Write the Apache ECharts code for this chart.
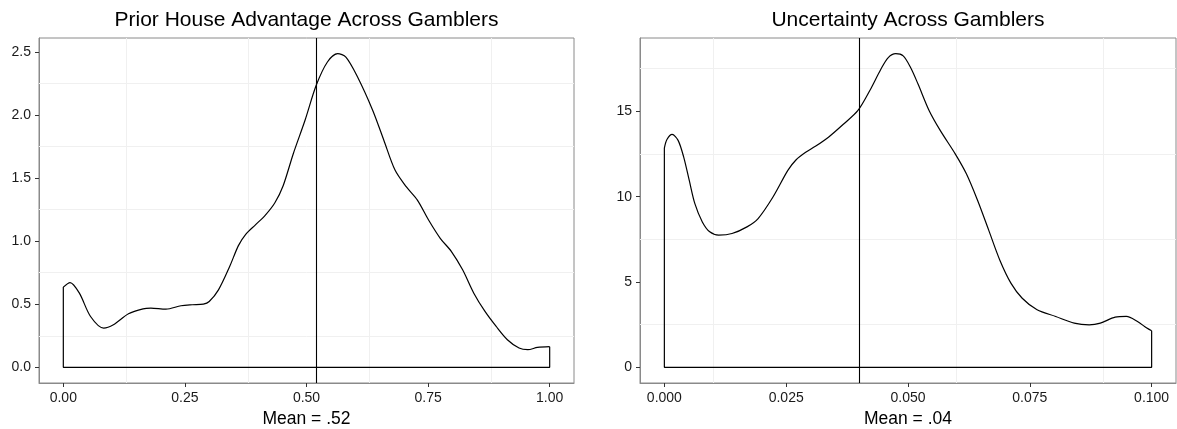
<!DOCTYPE html>
<html>
<head>
<meta charset="utf-8">
<script src="https://cdn.jsdelivr.net/npm/echarts@6/dist/echarts.min.js"></script>
<style>
  html, body { margin: 0; padding: 0; background: #fff; }
  #chart { width: 1177px; height: 429px; }
</style>
</head>
<body>
<div id="chart"></div>
<script>
// Kernel density of the prior house advantage across gamblers
const houseX = [0, 0.0139, 0.033, 0.056, 0.083, 0.103, 0.134, 0.164, 0.180, 0.211, 0.242, 0.265, 0.288, 0.300,
  0.319, 0.342, 0.360, 0.375, 0.395, 0.415, 0.435, 0.452, 0.473, 0.497, 0.520, 0.543, 0.564, 0.581, 0.605, 0.636,
  0.659, 0.682, 0.705, 0.728, 0.751, 0.775, 0.798, 0.821, 0.844, 0.867, 0.890, 0.913, 0.937, 0.955, 0.975, 1.0];
const houseDensity = [0.636, 0.672, 0.588, 0.403, 0.311, 0.338, 0.425, 0.464, 0.469, 0.461, 0.488, 0.496, 0.501, 0.522,
  0.614, 0.799, 0.965, 1.055, 1.130, 1.205, 1.305, 1.440, 1.696, 1.959, 2.236, 2.421, 2.487, 2.460, 2.302, 2.039,
  1.801, 1.564, 1.432, 1.326, 1.168, 1.023, 0.918, 0.773, 0.588, 0.443, 0.324, 0.219, 0.153, 0.140, 0.158, 0.164];
const houseMean = 0.5235;

// Kernel density of the uncertainty across gamblers
const uncertX = [0, 0.00053, 0.00160, 0.00282, 0.00397, 0.00511, 0.00626, 0.00779, 0.00931, 0.01115, 0.01389,
  0.01695, 0.01924, 0.02229, 0.02534, 0.02700, 0.02900, 0.03100, 0.03374, 0.03679, 0.03969, 0.04214, 0.04443, 0.04595,
  0.04748, 0.04901, 0.05053, 0.05206, 0.05435, 0.05664, 0.05969, 0.06198, 0.06427, 0.06656, 0.06885, 0.07115,
  0.07344, 0.07649, 0.08031, 0.08412, 0.08718, 0.08947, 0.09252, 0.09481, 0.09710, 0.09901, 0.1];
const uncertDensity = [12.85, 13.35, 13.65, 13.30, 12.32, 10.95, 9.59, 8.52, 7.94, 7.75, 7.84,
  8.23, 8.72, 9.98, 11.54, 12.15, 12.60, 12.95, 13.50, 14.26, 15.04, 16.21, 17.47, 18.15,
  18.38, 18.25, 17.57, 16.60, 15.04, 13.87, 12.51, 11.34, 9.79, 8.04, 6.28, 4.92,
  4.05, 3.37, 2.98, 2.59, 2.49, 2.59, 2.94, 2.98, 2.68, 2.30, 2.14];
const uncertMean = 0.0397;

// Axis breaks
const houseTicksX = [0, 0.25, 0.5, 0.75, 1];
const houseTicksY = [0, 0.5, 1, 1.5, 2, 2.5];
const houseMinorX = [0.125, 0.375, 0.625, 0.875];
const houseMinorY = [0.25, 0.75, 1.25, 1.75, 2.25];
const uncertTicksX = [0, 0.025, 0.05, 0.075, 0.1];
const uncertTicksY = [0, 5, 10, 15];
const uncertMinorX = [0.0125, 0.0375, 0.0625, 0.0875];
const uncertMinorY = [2.5, 7.5, 12.5, 17.5];

const FONT = 'Liberation Sans, Arial, Helvetica, sans-serif';
const BORDER = '#8a8a8a';

function pairs(xs, ys) { return xs.map((x, i) => [x, ys[i]]); }

// closed outline of the density: right edge, baseline, left edge
function outline(xs, ys) {
  const n = xs.length - 1;
  return [[xs[n], ys[n]], [xs[n], 0], [xs[0], 0], [xs[0], ys[0]]];
}

function xAxisCfg(idx, min, max, ticks, digits, name) {
  return {
    type: 'value', gridIndex: idx, min: min, max: max, position: 'bottom',
    axisLine: { show: true, onZero: false, lineStyle: { color: BORDER, width: 1 } },
    axisTick: { show: true, customValues: ticks, length: 4, lineStyle: { color: '#333', width: 1 } },
    axisLabel: { customValues: ticks, formatter: v => v.toFixed(digits), margin: 8,
      color: '#1a1a1a', fontSize: 14, fontFamily: FONT },
    splitLine: { show: false },
    name: name, nameLocation: 'middle', nameGap: 26,
    nameTextStyle: { color: '#000', fontSize: 17.5, fontFamily: FONT }
  };
}

function yAxisCfg(idx, min, max, ticks, digits) {
  return {
    type: 'value', gridIndex: idx, min: min, max: max, position: 'left',
    axisLine: { show: true, onZero: false, lineStyle: { color: BORDER, width: 1 } },
    axisTick: { show: true, customValues: ticks, length: 4, lineStyle: { color: '#333', width: 1 } },
    axisLabel: { customValues: ticks, formatter: v => v.toFixed(digits), margin: 8,
      color: '#1a1a1a', fontSize: 14, fontFamily: FONT },
    splitLine: { show: false }
  };
}

function gridLines(idx, minorX, minorY) {
  return {
    type: 'line', xAxisIndex: idx, yAxisIndex: idx, data: [], z: 1, silent: true,
    markLine: {
      silent: true, symbol: ['none', 'none'], animation: false, z: 1,
      label: { show: false },
      lineStyle: { color: '#f0f0f0', width: 1, type: 'solid' },
      emphasis: { disabled: true },
      data: minorX.map(v => ({ xAxis: v })).concat(minorY.map(v => ({ yAxis: v })))
    }
  };
}

function densitySeries(idx, xs, ys, mean) {
  return [
    {
      type: 'line', xAxisIndex: idx, yAxisIndex: idx, data: pairs(xs, ys),
      smooth: 0.3, showSymbol: false, symbol: 'none', z: 6,
      lineStyle: { color: '#000', width: 1.2 },
      markLine: {
        silent: true, symbol: ['none', 'none'], animation: false, z: 7,
        label: { show: false },
        lineStyle: { color: '#000', width: 1.1, type: 'solid' },
        emphasis: { disabled: true },
        data: [{ xAxis: mean }]
      }
    },
    {
      type: 'line', xAxisIndex: idx, yAxisIndex: idx, data: outline(xs, ys),
      smooth: false, showSymbol: false, symbol: 'none', z: 6,
      lineStyle: { color: '#000', width: 1.2 }
    }
  ];
}

const chart = echarts.init(document.getElementById('chart'), null, { renderer: 'canvas' });
chart.setOption({
  animation: false,
  backgroundColor: '#fff',
  title: [
    { text: 'Prior House Advantage Across Gamblers', left: 306.5, top: 10, textAlign: 'center', padding: 0,
      textStyle: { fontSize: 21, fontWeight: 'normal', color: '#000', fontFamily: FONT } },
    { text: 'Uncertainty Across Gamblers', left: 908, top: 10, textAlign: 'center', padding: 0,
      textStyle: { fontSize: 21, fontWeight: 'normal', color: '#000', fontFamily: FONT } }
  ],
  grid: [
    { left: 39, right: 603, top: 38, bottom: 46, containLabel: false, outerBoundsMode: 'none',
      show: true, borderColor: BORDER, borderWidth: 1, backgroundColor: '#fff' },
    { left: 640, right: 1, top: 38, bottom: 46, containLabel: false, outerBoundsMode: 'none',
      show: true, borderColor: BORDER, borderWidth: 1, backgroundColor: '#fff' }
  ],
  xAxis: [
    xAxisCfg(0, -0.05, 1.05, houseTicksX, 2, 'Mean = .52'),
    xAxisCfg(1, -0.005, 0.105, uncertTicksX, 3, 'Mean = .04')
  ],
  yAxis: [
    yAxisCfg(0, -0.1244, 2.6114, houseTicksY, 1),
    yAxisCfg(1, -0.919, 19.3, uncertTicksY, 0)
  ],
  series: [
    gridLines(0, houseMinorX, houseMinorY),
    gridLines(1, uncertMinorX, uncertMinorY)
  ].concat(densitySeries(0, houseX, houseDensity, houseMean))
   .concat(densitySeries(1, uncertX, uncertDensity, uncertMean))
});
</script>
</body>
</html>
